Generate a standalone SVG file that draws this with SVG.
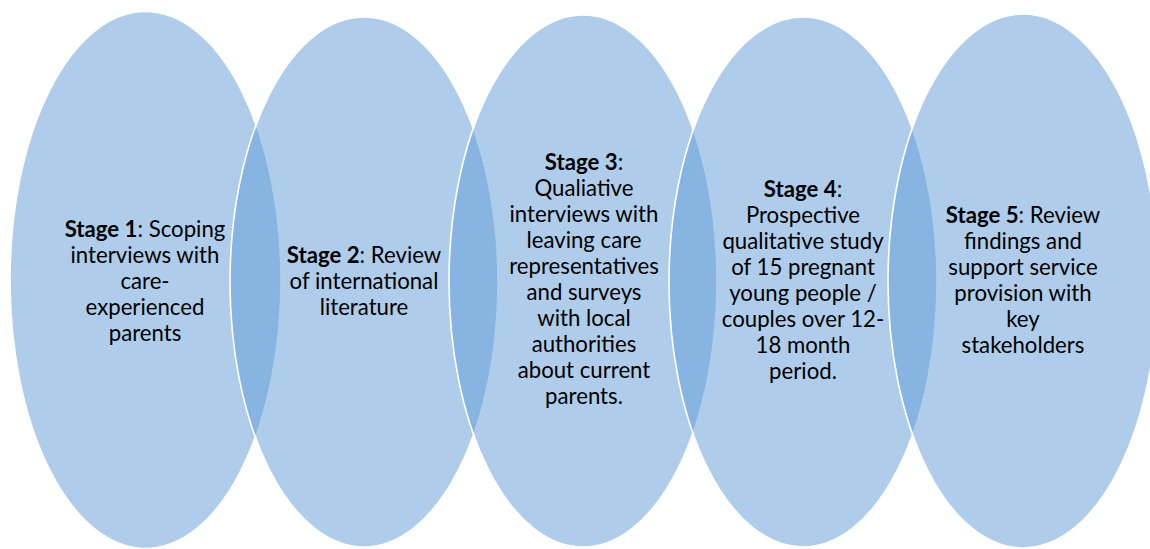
<svg xmlns="http://www.w3.org/2000/svg" width="1150" height="549" viewBox="0 0 1150 549">
<style>
.shape{fill:#5F9BD5;fill-opacity:0.5;stroke:#FFFFFF;stroke-width:1.6}
.lbl{font-family:Lato,"Liberation Sans",sans-serif;font-size:22.2px;fill:#000000;text-anchor:middle}
.b{font-weight:bold}
</style>
<rect width="1150" height="549" fill="#FFFFFF"/>
<g id="stage1">
<ellipse class="shape" cx="145.5" cy="280" rx="135.5" ry="268.5"/>
<text class="lbl" x="145" y="237"><tspan class="b">Stage 1</tspan>: Scoping</text>
<text class="lbl" x="145" y="263">interviews with</text>
<text class="lbl" x="145" y="289">care-</text>
<text class="lbl" x="145" y="315">experienced</text>
<text class="lbl" x="145" y="341">parents</text>
</g>
<g id="stage2">
<ellipse class="shape" cx="364" cy="282" rx="134" ry="265"/>
<text class="lbl" x="364" y="263"><tspan class="b">Stage 2</tspan>: Review</text>
<text class="lbl" x="364" y="289">of international</text>
<text class="lbl" x="364" y="315">literature</text>
</g>
<g id="stage3">
<ellipse class="shape" cx="583" cy="281" rx="134" ry="266"/>
<text class="lbl" x="584" y="170"><tspan class="b">Stage 3</tspan>:</text>
<text class="lbl" x="584" y="196">Qualiative</text>
<text class="lbl" x="584" y="222">interviews with</text>
<text class="lbl" x="584" y="248">leaving care</text>
<text class="lbl" x="584" y="274">representatives</text>
<text class="lbl" x="584" y="300">and surveys</text>
<text class="lbl" x="584" y="326">with local</text>
<text class="lbl" x="584" y="352">authorities</text>
<text class="lbl" x="584" y="378">about current</text>
<text class="lbl" x="584" y="404">parents.</text>
</g>
<g id="stage4">
<ellipse class="shape" cx="803" cy="282" rx="134" ry="265"/>
<text class="lbl" x="803" y="197"><tspan class="b">Stage 4</tspan>:</text>
<text class="lbl" x="803" y="223">Prospective</text>
<text class="lbl" x="803" y="249">qualitative study</text>
<text class="lbl" x="803" y="275">of 15 pregnant</text>
<text class="lbl" x="803" y="301">young people /</text>
<text class="lbl" x="803" y="327">couples over 12-</text>
<text class="lbl" x="803" y="353">18 month</text>
<text class="lbl" x="803" y="379">period.</text>
</g>
<g id="stage5">
<ellipse class="shape" cx="1023" cy="281" rx="135" ry="267"/>
<text class="lbl" x="1023" y="223"><tspan class="b">Stage 5</tspan>: Review</text>
<text class="lbl" x="1023" y="249">findings and</text>
<text class="lbl" x="1023" y="275">support service</text>
<text class="lbl" x="1023" y="301">provision with</text>
<text class="lbl" x="1023" y="327">key</text>
<text class="lbl" x="1023" y="353">stakeholders</text>
</g>
<g id="connectors"/>
</svg>
